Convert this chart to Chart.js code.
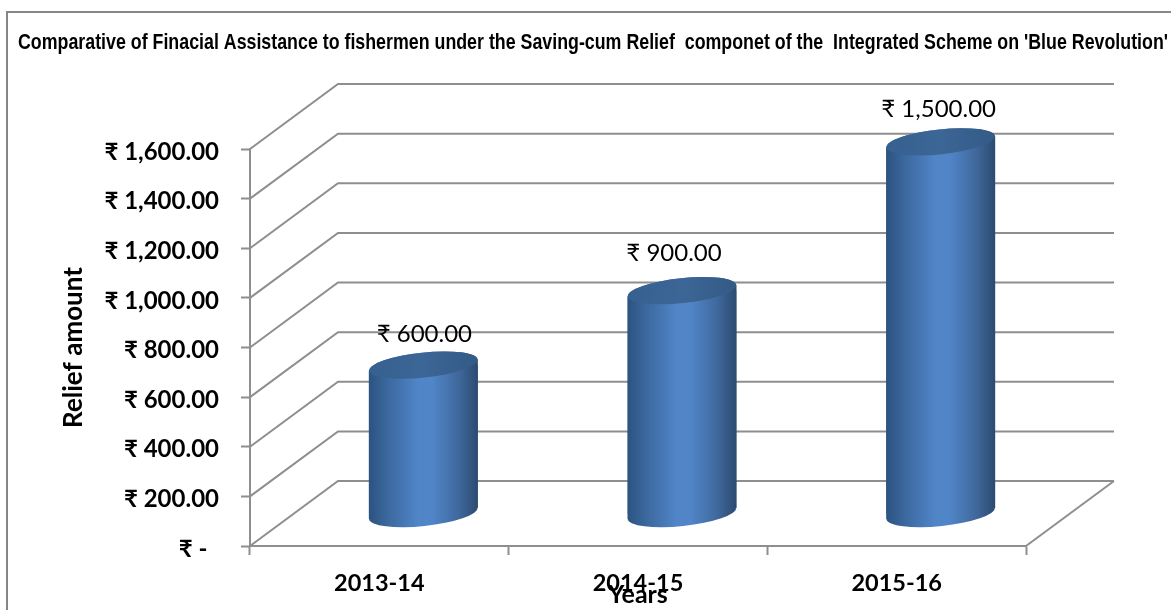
<!DOCTYPE html>
<html>
<head>
<meta charset="utf-8">
<style>html,body{margin:0;padding:0;background:#fff}canvas{display:block}</style>
<script src="https://cdn.jsdelivr.net/npm/chart.js@4"></script>
</head>
<body>
<div style="width:1171px;height:610px"><canvas id="c" width="1171" height="610"></canvas></div>
<script>
const categories = ['2013-14', '2014-15', '2015-16'];
const reliefAmounts = [600, 900, 1500];
const dataLabels = ['₹ 600.00', '₹ 900.00', '₹ 1,500.00'];
const titleText = "Comparative of Finacial Assistance to fishermen under the Saving-cum Relief  componet of the  Integrated Scheme on 'Blue Revolution'";
const xTitleText = 'Years';
const yTitleText = 'Relief amount';
const yMax = 1600, yStep = 200;

const GRAY = '#8e8e8e';
const LABEL_FONT = 'Lato, "Noto Sans", sans-serif';
const DEPTH = {x: 88, y: -65};          // back wall offset
const BAR = {x: 44, y: -32, rx: 54.5, ry: 12.5, rot: -6 * Math.PI / 180, tan: 5.5}; // cylinder placement
const labelNudge = [{x: 1, y: -31}, {x: -8, y: -37}, {x: -2, y: -33}];

function cylGradient(ctx, cx) {
  const g = ctx.createLinearGradient(cx - BAR.rx, 0, cx + BAR.rx, 0);
  g.addColorStop(0, '#2c5380');
  g.addColorStop(0.18, '#3c699f');
  g.addColorStop(0.45, '#5085c8');
  g.addColorStop(0.58, '#5085c8');
  g.addColorStop(0.82, '#40699d');
  g.addColorStop(1, '#2b4a70');
  return g;
}

function silhouette(ctx, el) {
  const cx = el.x, t = el.y, b = el.base;
  ctx.beginPath();
  ctx.moveTo(cx - BAR.rx, t + BAR.tan);
  ctx.lineTo(cx + BAR.rx, t - BAR.tan);
  ctx.lineTo(cx + BAR.rx, b - BAR.tan);
  ctx.lineTo(cx - BAR.rx, b + BAR.tan);
  ctx.closePath();
  ctx.moveTo(cx + BAR.rx, b);
  ctx.ellipse(cx, b, BAR.rx, BAR.ry, BAR.rot, 0, Math.PI * 2);
  ctx.moveTo(cx + BAR.rx, t);
  ctx.ellipse(cx, t, BAR.rx, BAR.ry, BAR.rot, 0, Math.PI * 2);
}

const frame3d = {
  id: 'frame3d',
  afterLayout(chart) {
    if (chart.titleBlock) {
      chart.titleBlock.left = 18;
      chart.titleBlock.right = 1168;
      chart.titleBlock.width = 1150;
    }
  },
  beforeDraw(chart) {
    const c = chart.ctx;
    c.save();
    c.strokeStyle = '#868686';
    c.lineWidth = 2;
    c.beginPath();
    c.moveTo(7, 610); c.lineTo(7, 12); c.lineTo(1171, 12);
    c.stroke();
    c.restore();
  },
  beforeDatasetsDraw(chart) {
    const c = chart.ctx, ys = chart.scales.y, a = chart.chartArea;
    c.save();
    c.strokeStyle = GRAY;
    c.lineWidth = 2;
    ys.ticks.forEach(t => {
      const y = ys.getPixelForValue(t.value);
      c.beginPath();
      c.moveTo(a.left, y);
      c.lineTo(a.left + DEPTH.x, y + DEPTH.y);
      c.lineTo(a.right + DEPTH.x, y + DEPTH.y);
      c.stroke();
    });
    const y0 = ys.getPixelForValue(0);
    c.beginPath();
    c.moveTo(a.right, y0);
    c.lineTo(a.right + DEPTH.x, y0 + DEPTH.y);
    c.stroke();
    c.restore();
  },
  beforeDatasetDraw(chart, args) {
    const c = chart.ctx, els = chart.getDatasetMeta(args.index).data;
    c.save();
    c.translate(BAR.x, BAR.y);
    els.forEach(el => {
      silhouette(c, el);
      c.fillStyle = cylGradient(c, el.x);
      c.fill();
    });
    c.beginPath();
    els.forEach(el => {
      c.moveTo(el.x - BAR.rx, el.y + BAR.tan);
      c.lineTo(el.x + BAR.rx, el.y - BAR.tan);
      c.lineTo(el.x + BAR.rx, el.base - BAR.tan);
      c.lineTo(el.x - BAR.rx, el.base + BAR.tan);
      c.closePath();
    });
    c.clip();
  },
  afterDatasetDraw(chart, args) {
    const c = chart.ctx, els = chart.getDatasetMeta(args.index).data;
    c.restore();
    c.save();
    c.translate(BAR.x, BAR.y);
    els.forEach(el => {
      const g = c.createLinearGradient(el.x - BAR.rx, 0, el.x + BAR.rx, 0);
      g.addColorStop(0, '#36608f');
      g.addColorStop(0.5, '#3c6696');
      g.addColorStop(1, '#345a86');
      c.beginPath();
      c.ellipse(el.x, el.y, BAR.rx, BAR.ry, BAR.rot, 0, Math.PI * 2);
      c.fillStyle = g;
      c.fill();
    });
    c.restore();
    c.save();
    c.fillStyle = '#000';
    c.font = '24px ' + LABEL_FONT;
    c.textAlign = 'center';
    c.textBaseline = 'middle';
    els.forEach((el, i) => {
      c.fillText(dataLabels[i], el.x + BAR.x + labelNudge[i].x, el.y + BAR.y + labelNudge[i].y);
    });
    c.restore();
  }
};

new Chart(document.getElementById('c'), {
  type: 'bar',
  data: {
    labels: categories,
    datasets: [{
      data: reliefAmounts,
      clip: false,
      categoryPercentage: 1,
      barPercentage: 0.4214,
      backgroundColor: ctx => {
        if (ctx.dataIndex === undefined) return '#4a7ebb';
        const x = ctx.chart.scales.x.getPixelForValue(ctx.dataIndex);
        return Number.isFinite(x) ? cylGradient(ctx.chart.ctx, x) : '#4a7ebb';
      }
    }]
  },
  options: {
    responsive: false,
    animation: false,
    events: [],
    layout: {padding: {left: 58, right: 145, top: 0, bottom: 0}},
    plugins: {
      legend: {display: false},
      tooltip: {enabled: false},
      title: {
        display: true,
        text: titleText,
        align: 'center',
        color: '#000',
        font: {family: '"Liberation Sans Narrow", "Liberation Sans", sans-serif', size: 22.5, weight: 'bold', lineHeight: 1.2},
        padding: {top: 29, bottom: 93}
      }
    },
    scales: {
      x: {
        grid: {drawOnChartArea: false, drawTicks: true, tickLength: 9, tickColor: GRAY, tickWidth: 2, offset: true},
        border: {color: GRAY, width: 2},
        ticks: {color: '#000', font: {family: LABEL_FONT, size: 23.5, weight: 'bold'}, padding: 14, maxRotation: 0, autoSkip: false},
        title: {display: true, text: xTitleText, color: '#000', font: {family: LABEL_FONT, size: 25, weight: 'bold'}, padding: {top: 0, bottom: 0}},
        afterFit: s => { s.height = 64; }
      },
      y: {
        min: 0, max: yMax,
        grid: {drawOnChartArea: false, drawTicks: true, tickLength: 9, tickColor: GRAY, tickWidth: 2},
        border: {color: GRAY, width: 2},
        ticks: {
          stepSize: yStep,
          color: '#000',
          padding: 22,
          labelOffset: 3,
          font: {family: LABEL_FONT, size: 24, weight: 'bold'},
          callback: v => v === 0 ? '₹ -\u00a0\u00a0' : '₹ ' + v.toLocaleString('en-US') + '.00'
        },
        title: {display: true, text: yTitleText, color: '#000', font: {family: LABEL_FONT, size: 26, weight: 'bold'}, padding: {top: 0, bottom: 0}},
        afterFit: s => { s.width = 250 - 58; }
      }
    }
  },
  plugins: [frame3d]
});
</script>
</body>
</html>
